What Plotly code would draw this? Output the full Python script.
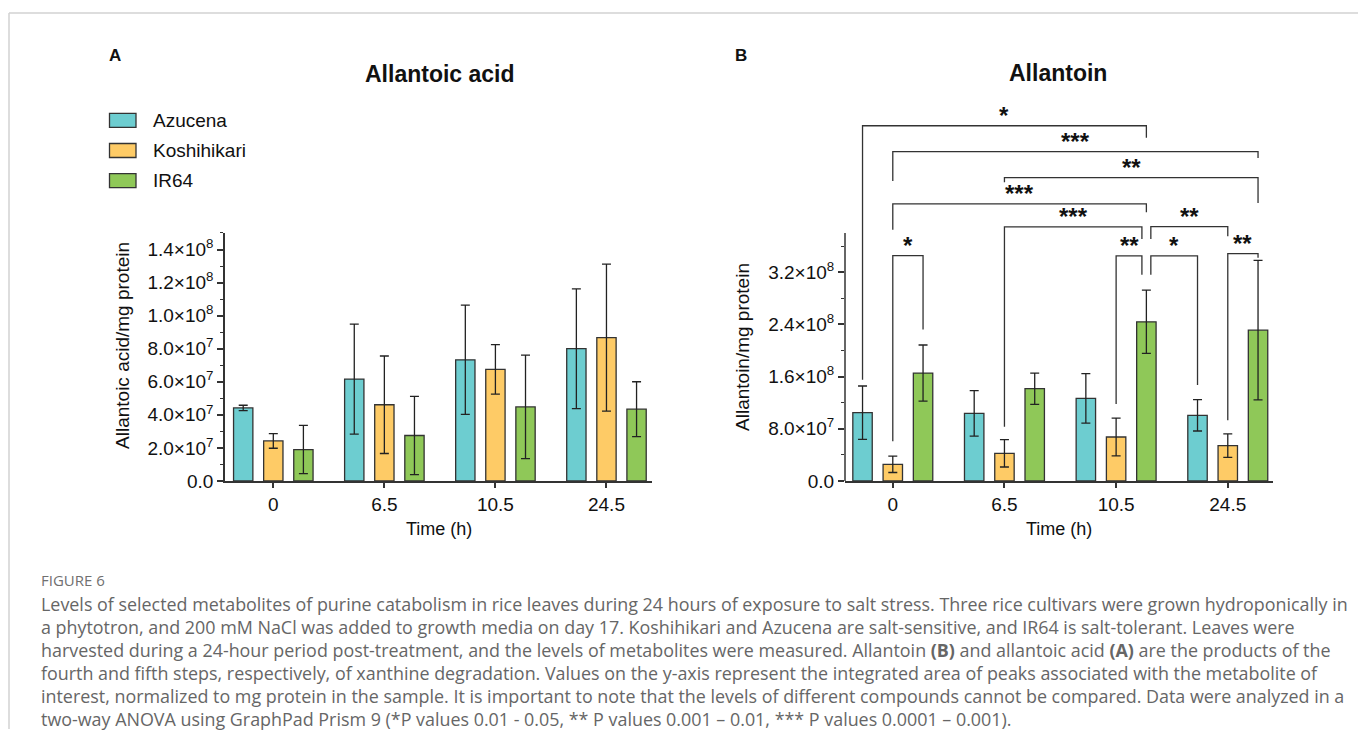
import plotly.graph_objects as go

W, H = 1358, 740

# ---------------- data ----------------
times = ["0", "6.5", "10.5", "24.5"]
cultivars = ["Azucena", "Koshihikari", "IR64"]
colors = ["#6dcdd0", "#fecb66", "#8fc858"]

acid_azucena = [4.42e7, 6.16e7, 7.33e7, 8.00e7]
acid_azucena_sd = [0.16e7, 3.33e7, 3.30e7, 3.62e7]
acid_koshihikari = [2.42e7, 4.61e7, 6.75e7, 8.67e7]
acid_koshihikari_sd = [0.44e7, 2.95e7, 1.50e7, 4.45e7]
acid_ir64 = [1.90e7, 2.75e7, 4.48e7, 4.34e7]
acid_ir64_sd = [1.46e7, 2.37e7, 3.13e7, 1.66e7]

allantoin_azucena = [1.046e8, 1.036e8, 1.266e8, 1.006e8]
allantoin_azucena_sd = [0.41e8, 0.35e8, 0.38e8, 0.24e8]
allantoin_koshihikari = [0.255e8, 0.424e8, 0.674e8, 0.541e8]
allantoin_koshihikari_sd = [0.125e8, 0.21e8, 0.29e8, 0.18e8]
allantoin_ir64 = [1.654e8, 1.414e8, 2.44e8, 2.312e8]
allantoin_ir64_sd = [0.43e8, 0.24e8, 0.485e8, 1.07e8]

acid_ticks = [0, 2e7, 4e7, 6e7, 8e7, 1.0e8, 1.2e8, 1.4e8]
acid_ticktext = ["0.0", "2.0×10<sup>7</sup>", "4.0×10<sup>7</sup>", "6.0×10<sup>7</sup>",
                 "8.0×10<sup>7</sup>", "1.0×10<sup>8</sup>", "1.2×10<sup>8</sup>", "1.4×10<sup>8</sup>"]
allantoin_ticks = [0, 8e7, 1.6e8, 2.4e8, 3.2e8]
allantoin_ticktext = ["0.0", "8.0×10<sup>7</sup>", "1.6×10<sup>8</sup>", "2.4×10<sup>8</sup>", "3.2×10<sup>8</sup>"]

# significance brackets on panel B:
# (left time idx, left cultivar idx, left nudge, left leg bottom,
#  right time idx, right cultivar idx, right nudge, right leg bottom, bracket level, label)
brackets = [
    (0, 0, 0.0, 1.55e8, 2, 2, 0.0, 5.26e8, 5.445e8, "*"),
    (0, 1, 0.0, 4.60e8, 3, 2, 0.0, 4.95e8, 5.047e8, "***"),
    (1, 1, 0.0, 4.58e8, 3, 2, 0.0, 4.26e8, 4.649e8, "**"),
    (0, 1, 0.0, 3.85e8, 2, 2, 0.0, 4.12e8, 4.247e8, "***"),
    (1, 1, 0.0, 0.83e8, 2, 2, -0.04, 3.71e8, 3.894e8, "***"),
    (2, 2, 0.04, 3.71e8, 3, 1, 0.0, 3.75e8, 3.90e8, "**"),
    (0, 1, 0.0, 0.61e8, 0, 2, 0.0, 2.32e8, 3.455e8, "*"),
    (2, 1, 0.0, 1.18e8, 2, 2, -0.04, 3.16e8, 3.45e8, "**"),
    (2, 2, 0.04, 3.16e8, 3, 0, 0.0, 1.47e8, 3.45e8, "*"),
    (3, 1, 0.0, 0.93e8, 3, 2, 0.0, 3.42e8, 3.485e8, "**"),
]

caption_title = "FIGURE 6"
caption_lines = [
    "Levels of selected metabolites of purine catabolism in rice leaves during 24 hours of exposure to salt stress. Three rice cultivars were grown hydroponically in",
    "a phytotron, and 200 mM NaCl was added to growth media on day 17. Koshihikari and Azucena are salt-sensitive, and IR64 is salt-tolerant. Leaves were",
    "harvested during a 24-hour period post-treatment, and the levels of metabolites were measured. Allantoin <b>(B)</b> and allantoic acid <b>(A)</b> are the products of the",
    "fourth and fifth steps, respectively, of xanthine degradation. Values on the y-axis represent the integrated area of peaks associated with the metabolite of",
    "interest, normalized to mg protein in the sample. It is important to note that the levels of different compounds cannot be compared. Data were analyzed in a",
    "two-way ANOVA using GraphPad Prism 9 (*P values 0.01 - 0.05, ** P values 0.001 \u2013 0.01, *** P values 0.0001 \u2013 0.001).",
]

# ---------------- helpers ----------------
KY = 1.015  # vertical layout factor

def px(xp):
    return xp / W

def py(yp):
    return max(0.0, 1 - yp * KY / H)

FONT = "Liberation Sans, Arial, sans-serif"
AX = "#333333"
BARGAP = 0.187
BARGROUPGAP = 0.358
xpos = list(range(len(times)))

fig = go.Figure()

acid_means = [acid_azucena, acid_koshihikari, acid_ir64]
acid_sds = [acid_azucena_sd, acid_koshihikari_sd, acid_ir64_sd]
all_means = [allantoin_azucena, allantoin_koshihikari, allantoin_ir64]
all_sds = [allantoin_azucena_sd, allantoin_koshihikari_sd, allantoin_ir64_sd]

for i, name in enumerate(cultivars):
    for (means, sds, xa, ya) in [(acid_means, acid_sds, "x", "y"), (all_means, all_sds, "x2", "y2")]:
        fig.add_trace(go.Bar(
            x=xpos, y=means[i], name=name, showlegend=False,
            xaxis=xa, yaxis=ya,
            marker=dict(color=colors[i], line=dict(color=AX, width=1.3)),
            error_y=dict(type="data", array=sds[i], visible=True,
                         color="#222222", thickness=1.3, width=4.5),
        ))

common_x = dict(showline=True, linecolor=AX, linewidth=1.5, ticks="outside", ticklen=5,
                tickwidth=1.5, tickcolor=AX, tickvals=xpos, ticktext=times,
                tickfont=dict(size=19, color="#111", family=FONT),
                showgrid=False, zeroline=False, fixedrange=True)
common_y = dict(ticks="outside", ticklen=6, tickwidth=1.5, tickcolor=AX,
                tickfont=dict(size=19, color="#111", family=FONT),
                showgrid=False, zeroline=False, fixedrange=True)

acid_range = [0, 1.5e8]
all_range = [0, 5.84e8]
all_axis_top = 3.8e8

fig.update_layout(
    width=W, height=H, margin=dict(l=0, r=0, t=0, b=0),
    paper_bgcolor="white", plot_bgcolor="white",
    barmode="group", bargap=BARGAP, bargroupgap=BARGROUPGAP,
    font=dict(family=FONT, color="#111"),
    xaxis=dict(domain=[px(225), px(652)], range=[-0.435, 3.41], anchor="y", **common_x),
    yaxis=dict(domain=[py(481), py(233)], range=acid_range, anchor="x",
               showline=True, linecolor=AX, linewidth=1.5,
               tickvals=acid_ticks, ticktext=acid_ticktext,
               minor=dict(tickvals=[v + 1e7 for v in acid_ticks], ticks="outside",
                          ticklen=3, tickwidth=1.2, tickcolor=AX),
               **common_y),
    xaxis2=dict(domain=[px(845), px(1273)], range=[-0.428, 3.405], anchor="y2", **common_x),
    yaxis2=dict(domain=[py(481), py(100)], range=all_range, anchor="x2",
                showline=False,
                tickvals=allantoin_ticks, ticktext=allantoin_ticktext,
                minor=dict(tickvals=[v + 4e7 for v in allantoin_ticks], ticks="outside",
                           ticklen=3, tickwidth=1.2, tickcolor=AX),
                **common_y),
)

shapes = []
annotations = []

# panel B y axis line (stops below the brackets)
shapes.append(dict(type="line", xref="x2 domain", yref="y2", x0=0, x1=0, y0=0, y1=all_axis_top,
                   line=dict(color=AX, width=1.5)))

# brackets
slot = (1 - BARGAP) / 3
def bar_x(t, c, nudge):
    return xpos[t] + (c - 1) * slot + nudge

for (t0, c0, n0, b0, t1, c1, n1, b1, lvl, lab) in brackets:
    x0 = bar_x(t0, c0, n0)
    x1 = bar_x(t1, c1, n1)
    shapes.append(dict(type="path", xref="x2", yref="y2",
                       path=f"M{x0},{b0} L{x0},{lvl} L{x1},{lvl} L{x1},{b1}",
                       line=dict(color=AX, width=1.3)))
    annotations.append(dict(x=(x0 + x1) / 2, y=lvl, xref="x2", yref="y2", text=f"<b>{lab}</b>",
                            showarrow=False, yanchor="bottom", yshift=-5,
                            font=dict(size=24, color="#111", family=FONT)))

# frame
shapes.append(dict(type="line", xref="paper", yref="paper", x0=px(9), x1=1, y0=py(13), y1=py(13),
                   line=dict(color="#d2d2d2", width=1.5)))
shapes.append(dict(type="line", xref="paper", yref="paper", x0=px(9), x1=px(9), y0=py(13), y1=0,
                   line=dict(color="#d2d2d2", width=1.5)))

# legend (manual)
legend_rows = [120.3, 150.5, 180.7]
for i, name in enumerate(cultivars):
    yc = legend_rows[i]
    shapes.append(dict(type="rect", xref="paper", yref="paper",
                       x0=px(109.5), x1=px(136), y0=py(yc + 7), y1=py(yc - 7),
                       fillcolor=colors[i], line=dict(color=AX, width=1.3)))
    annotations.append(dict(x=px(150.5), y=py(yc), xref="paper", yref="paper", text=name,
                            showarrow=False, xanchor="left", yanchor="middle",
                            font=dict(size=19, color="#111", family=FONT)))

# panel letters and titles
annotations += [
    dict(x=px(115), y=py(56), text="<b>A</b>", font=dict(size=17, family=FONT, color="#111")),
    dict(x=px(741), y=py(56), text="<b>B</b>", font=dict(size=17, family=FONT, color="#111")),
    dict(x=px(440), y=py(74), text="<b>Allantoic acid</b>", font=dict(size=23, family=FONT, color="#111")),
    dict(x=px(1058), y=py(73), text="<b>Allantoin</b>", font=dict(size=23, family=FONT, color="#111")),
    dict(x=px(439), y=py(529), text="Time (h)", font=dict(size=18, family=FONT, color="#111")),
    dict(x=px(1059), y=py(529), text="Time (h)", font=dict(size=18, family=FONT, color="#111")),
    dict(x=px(123), y=py(346), text="Allantoic acid/mg protein", textangle=-90,
         font=dict(size=19, family=FONT, color="#111")),
    dict(x=px(743), y=py(347), text="Allantoin/mg protein", textangle=-90,
         font=dict(size=19, family=FONT, color="#111")),
]
for a in annotations[-8:]:
    a.update(xref="paper", yref="paper", showarrow=False, xanchor="center", yanchor="middle")

# caption
CAP_FONT = "Open Sans, Lato, sans-serif"
annotations.append(dict(x=px(38.5), y=py(580), xref="paper", yref="paper", text=caption_title,
                        showarrow=False, xanchor="left", yanchor="middle",
                        font=dict(size=15, family=CAP_FONT, color="#707070")))
for k, line in enumerate(caption_lines):
    annotations.append(dict(x=px(38.5), y=py(604 + 23 * k), xref="paper", yref="paper", text=line,
                            showarrow=False, xanchor="left", yanchor="middle",
                            font=dict(size=17.9, family=CAP_FONT, color="#666666")))

fig.update_layout(shapes=shapes, annotations=annotations)

fig.write_html("out.html", config={"displayModeBar": False},
               post_script="document.body.style.margin='0';document.body.style.overflow='hidden';")
